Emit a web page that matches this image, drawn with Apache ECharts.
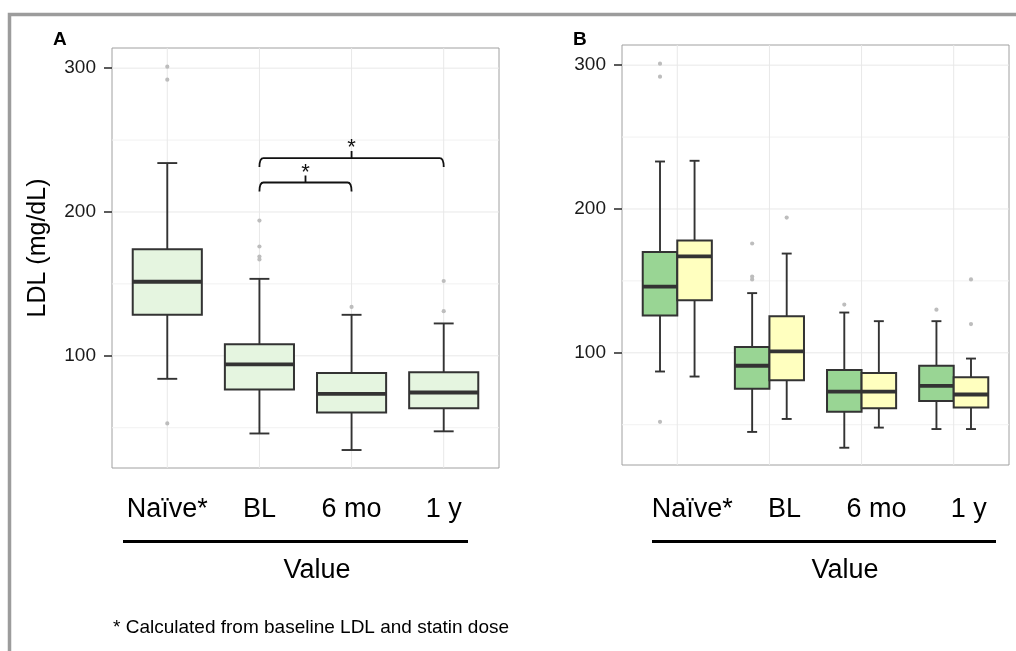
<!DOCTYPE html>
<html>
<head>
<meta charset="utf-8">
<script src="https://cdn.jsdelivr.net/npm/echarts@6.0.0/dist/echarts.min.js"></script>
<style>
  html, body { margin: 0; padding: 0; background: #fff; }
  #chart { width: 1016px; height: 651px; }
</style>
</head>
<body>
<div id="chart"></div>
<script>
// categories on the x axis (both panels)
const categories = ['Naïve*', 'BL', '6 mo', '1 y']
// box stats: [lower whisker, Q1, median, Q3, upper whisker]
const boxA = [
  [84, 128.5, 151.5, 174, 234],
  [46, 76.5, 94, 108, 153.5],
  [34.5, 60.5, 73.5, 88, 128.5],
  [47.5, 63.5, 74.5, 88.5, 122.5]
]
// outliers: [category index, value]
const outA = [[0, 301], [0, 292], [0, 53], [1, 194], [1, 176], [1, 169], [1, 167], [2, 134], [3, 152], [3, 131]]

const boxBGreen = [
  [87, 126, 146, 170, 233],
  [45, 75, 91, 104, 141.5],
  [34, 59, 73, 88, 128],
  [47, 66.5, 77, 91, 122]
]
const boxBYellow = [
  [83.5, 136.5, 167, 178, 233.5],
  [54, 81, 101, 125.5, 169],
  [48, 61.5, 73, 86, 122],
  [47, 62, 71, 83, 96]
]
const outBGreen = [[0, 301], [0, 292], [0, 52], [1, 176], [1, 153], [1, 151], [2, 133.5], [3, 130]]
const outBYellow = [[1, 194], [3, 151], [3, 120]]

// y ticks and grid lines
const yMajor = [100, 200, 300]
const yMinor = [50, 150, 250]

// significance brackets in panel A
const bracketFrom = [1, 1]
const bracketTo = [2, 3]
const bracketY = [220.5, 237.5]
const bracketMark = ['*', '*']

const FONT = 'Liberation Sans, Arial, Helvetica, sans-serif'
const INK = '#333'

const chart = echarts.init(document.getElementById('chart'))

function boxRender(offset, boxW, capW, fill) {
  return function (params, api) {
    const x = api.value(0) + offset
    const lo = api.coord([x, api.value(1)])
    const q1 = api.coord([x, api.value(2)])
    const md = api.coord([x, api.value(3)])
    const q3 = api.coord([x, api.value(4)])
    const hi = api.coord([x, api.value(5)])
    const half = api.size([boxW, 0])[0] / 2
    const cap = api.size([capW, 0])[0] / 2
    const cx = lo[0]
    const ls = { stroke: INK, lineWidth: 1.9 }
    return {
      type: 'group',
      children: [
        { type: 'line', shape: { x1: cx, y1: hi[1], x2: cx, y2: q3[1] }, style: ls },
        { type: 'line', shape: { x1: cx, y1: q1[1], x2: cx, y2: lo[1] }, style: ls },
        { type: 'line', shape: { x1: cx - cap, y1: hi[1], x2: cx + cap, y2: hi[1] }, style: ls },
        { type: 'line', shape: { x1: cx - cap, y1: lo[1], x2: cx + cap, y2: lo[1] }, style: ls },
        { type: 'rect', shape: { x: cx - half, y: q3[1], width: half * 2, height: q1[1] - q3[1] },
          style: { fill: fill, stroke: INK, lineWidth: 2 } },
        { type: 'line', shape: { x1: cx - half, y1: md[1], x2: cx + half, y2: md[1] },
          style: { stroke: INK, lineWidth: 3.8 } }
      ]
    }
  }
}

function outlierRender(offset) {
  return function (params, api) {
    const p = api.coord([api.value(0) + offset, api.value(1)])
    return { type: 'circle', shape: { cx: p[0], cy: p[1], r: 2.1 }, style: { fill: '#bdbdbd' } }
  }
}

// light panel grid lines
function gridRender(params, api) {
  const cs = params.coordSys
  const kind = api.value(0)
  const v = api.value(1)
  if (kind === 2) {
    const px = api.coord([v, 100])[0]
    return { type: 'line', shape: { x1: px, y1: cs.y, x2: px, y2: cs.y + cs.height },
      style: { stroke: '#e8e8e8', lineWidth: 1 } }
  }
  const py = api.coord([1, v])[1]
  return { type: 'line', shape: { x1: cs.x, y1: py, x2: cs.x + cs.width, y2: py },
    style: { stroke: kind === 1 ? '#e8e8e8' : '#f1f1f1', lineWidth: 1 } }
}

function bracketRender(params, api) {
  const a = api.coord([api.value(0), api.value(2)])
  const b = api.coord([api.value(1), api.value(2)])
  const y = a[1]
  const xm = (a[0] + b[0]) / 2
  const mark = bracketMark[params.dataIndex]
  return {
    type: 'group',
    children: [
      { type: 'path', shape: {
          pathData: 'M' + a[0] + ' ' + (y + 9) + ' Q' + a[0] + ' ' + y + ' ' + (a[0] + 4) + ' ' + y +
            ' L' + (b[0] - 4) + ' ' + y + ' Q' + b[0] + ' ' + y + ' ' + b[0] + ' ' + (y + 9) +
            ' M' + xm + ' ' + y + ' L' + xm + ' ' + (y - 7)
        },
        style: { fill: null, stroke: '#111', lineWidth: 1.8 } },
      { type: 'text', x: xm, y: y - 10, style: { text: mark, fontSize: 22, fontFamily: FONT,
          fill: '#111', textAlign: 'center', textVerticalAlign: 'middle' } }
    ]
  }
}

const gridLines = yMinor.map(v => [0, v]).concat(yMajor.map(v => [1, v]), categories.map((c, i) => [2, i + 1]))
const toItem = arr => arr.map((d, i) => [i + 1].concat(d))
const toOut = arr => arr.map(d => [d[0] + 1, d[1]])

function xAxisFor(gridIndex, margin, pad) {
  return {
    type: 'value', gridIndex: gridIndex, min: 0.4, max: 4.6,
    axisLine: { show: false }, axisTick: { show: false }, splitLine: { show: false },
    axisLabel: {
      customValues: [1, 2, 3, 4],
      formatter: v => categories[Math.round(v) - 1],
      fontSize: 27, fontFamily: FONT, color: '#000', margin: margin, lineHeight: 27,
      padding: pad
    }
  }
}

function yAxisFor(gridIndex) {
  return {
    type: 'value', gridIndex: gridIndex, min: 22, max: 314,
    axisLine: { show: false },
    axisTick: { show: true, customValues: yMajor, length: 8, lineStyle: { color: INK, width: 1.6 } },
    axisLabel: { customValues: yMajor, fontSize: 19, fontFamily: FONT, color: '#1a1a1a', margin: 16 },
    splitLine: { show: false }
  }
}

chart.setOption({
  animation: false,
  backgroundColor: '#fff',
  grid: [
    { left: 112, top: 48, width: 387, height: 420, show: true, borderColor: '#a0a0a0', borderWidth: 1, backgroundColor: '#fff' },
    { left: 622, top: 45, width: 387, height: 420, show: true, borderColor: '#a0a0a0', borderWidth: 1, backgroundColor: '#fff' }
  ],
  xAxis: [xAxisFor(0, 28, [0, 0, 0, 0]), xAxisFor(1, 31, [0, 0, 0, 30])],
  yAxis: [yAxisFor(0), yAxisFor(1)],
  series: [
    { type: 'custom', xAxisIndex: 0, yAxisIndex: 0, z: 1, silent: true, renderItem: gridRender, data: gridLines },
    { type: 'custom', xAxisIndex: 1, yAxisIndex: 1, z: 1, silent: true, renderItem: gridRender, data: gridLines },
    { type: 'custom', xAxisIndex: 0, yAxisIndex: 0, z: 3, renderItem: outlierRender(0), data: toOut(outA) },
    { type: 'custom', xAxisIndex: 0, yAxisIndex: 0, z: 4, renderItem: boxRender(0, 0.75, 0.216, '#e5f5e0'), data: toItem(boxA) },
    { type: 'custom', xAxisIndex: 0, yAxisIndex: 0, z: 4, renderItem: bracketRender,
      data: bracketY.map((v, i) => [bracketFrom[i] + 1, bracketTo[i] + 1, v]) },
    { type: 'custom', xAxisIndex: 1, yAxisIndex: 1, z: 3, renderItem: outlierRender(-0.1875), data: toOut(outBGreen) },
    { type: 'custom', xAxisIndex: 1, yAxisIndex: 1, z: 3, renderItem: outlierRender(0.1875), data: toOut(outBYellow) },
    { type: 'custom', xAxisIndex: 1, yAxisIndex: 1, z: 4, renderItem: boxRender(-0.1875, 0.375, 0.108, '#99d594'), data: toItem(boxBGreen) },
    { type: 'custom', xAxisIndex: 1, yAxisIndex: 1, z: 4, renderItem: boxRender(0.1875, 0.375, 0.108, '#ffffbf'), data: toItem(boxBYellow) }
  ],
  graphic: [
    { type: 'rect', shape: { x: 9.5, y: 14.5, width: 1200, height: 800 }, style: { fill: null, stroke: '#9c9c9c', lineWidth: 3.5 }, silent: true },
    { type: 'text', x: 53, y: 40, style: { text: 'A', fontSize: 19, fontWeight: 'bold', fontFamily: FONT, fill: '#000', textVerticalAlign: 'middle' } },
    { type: 'text', x: 573, y: 39.5, style: { text: 'B', fontSize: 19, fontWeight: 'bold', fontFamily: FONT, fill: '#000', textVerticalAlign: 'middle' } },
    { type: 'text', x: 38, y: 248, rotation: Math.PI / 2,
      style: { text: 'LDL (mg/dL)', fontSize: 25, fontFamily: FONT, fill: '#000', textAlign: 'center', textVerticalAlign: 'middle' } },
    { type: 'line', shape: { x1: 123, y1: 541.5, x2: 468, y2: 541.5 }, style: { stroke: '#000', lineWidth: 3 } },
    { type: 'line', shape: { x1: 652, y1: 541.5, x2: 996, y2: 541.5 }, style: { stroke: '#000', lineWidth: 3 } },
    { type: 'text', x: 317, y: 571, style: { text: 'Value', fontSize: 27, fontFamily: FONT, fill: '#000', textAlign: 'center', textVerticalAlign: 'middle' } },
    { type: 'text', x: 845, y: 571, style: { text: 'Value', fontSize: 27, fontFamily: FONT, fill: '#000', textAlign: 'center', textVerticalAlign: 'middle' } },
    { type: 'text', x: 113, y: 628, style: { text: '* Calculated from baseline LDL and statin dose', fontSize: 19, fontFamily: FONT, fill: '#000', textVerticalAlign: 'middle' } }
  ]
})
</script>
</body>
</html>
